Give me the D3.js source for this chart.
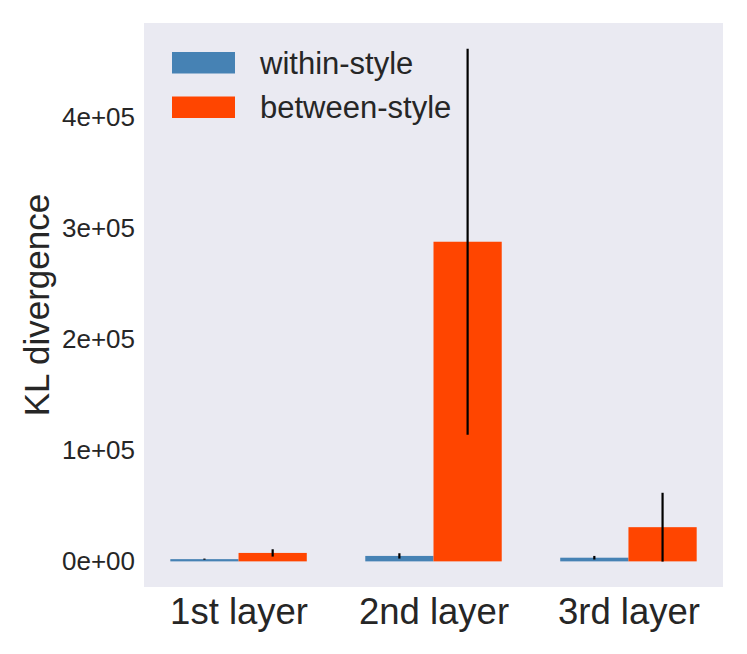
<!DOCTYPE html>
<html>
<head>
<meta charset="utf-8">
<script src="https://cdn.jsdelivr.net/npm/d3@7"></script>
<style>
  body { margin: 0; background: #fff; }
  svg text { font-family: "Liberation Sans", Arial, sans-serif; fill: #262626; }
</style>
</head>
<body>
<div class="chart"></div>
<script>
// values
var categories = ["1st layer", "2nd layer", "3rd layer"];
var seriesNames = ["within-style", "between-style"];
var withinMean = [2000, 4900, 3300];
var withinErr = [500, 2400, 1600];
var betweenMean = [7600, 288000, 30800];
var betweenErr = [3300, 174000, 31000];
var yTicks = [0, 100000, 200000, 300000, 400000];
var yTickLabels = ["0e+00", "1e+05", "2e+05", "3e+05", "4e+05"];

var colors = ["#4682B4", "#FF4500"];

var width = 747, height = 654;
var margin = {left: 144, right: 24, top: 23, bottom: 67};
var plotW = width - margin.left - margin.right,
    plotH = height - margin.top - margin.bottom;

var svg = d3.select(".chart").append("svg")
    .attr("width", width)
    .attr("height", height);

var g = svg.append("g")
    .attr("transform", "translate(" + margin.left + "," + margin.top + ")");

// index scale, bars are 0.35 wide each side of the tick
var x = d3.scaleLinear().domain([-0.485, 2.485]).range([0, plotW]);
var y = d3.scaleLinear().domain([-23100, 485100]).range([plotH, 0]);
var barW = 0.35;

g.append("rect")
    .attr("width", plotW)
    .attr("height", plotH)
    .style("fill", "#EAEAF2");

var series = [
  {key: "within", name: seriesNames[0], mean: withinMean, err: withinErr, off: -barW, color: colors[0]},
  {key: "between", name: seriesNames[1], mean: betweenMean, err: betweenErr, off: 0, color: colors[1]}
];

series.forEach(function(s) {
  var rows = categories.map(function(c, i) { return {i: i, v: s.mean[i], e: s.err[i]}; });

  g.selectAll(".bar-" + s.key)
    .data(rows)
    .enter().append("rect")
    .attr("class", "bar-" + s.key)
    .attr("x", function(d) { return x(d.i + s.off); })
    .attr("width", function(d) { return x(d.i + s.off + barW) - x(d.i + s.off); })
    .attr("y", function(d) { return y(d.v); })
    .attr("height", function(d) { return y(0) - y(d.v); })
    .style("fill", s.color);

  //error bars
  g.selectAll(".err-" + s.key)
    .data(rows)
    .enter().append("line")
    .attr("class", "err-" + s.key)
    .attr("x1", function(d) { return x(d.i + s.off + barW / 2); })
    .attr("x2", function(d) { return x(d.i + s.off + barW / 2); })
    .attr("y1", function(d) { return y(d.v - d.e); })
    .attr("y2", function(d) { return y(d.v + d.e); })
    .style("stroke", "#000")
    .style("stroke-width", 2.2);
});

// y axis labels, no ticks or domain
var yAxis = d3.axisLeft(y)
    .tickValues(yTicks)
    .tickSize(0)
    .tickPadding(9)
    .tickFormat(function(d, i) { return yTickLabels[i]; });

g.append("g")
    .call(yAxis)
    .call(function(a) { a.select(".domain").remove(); })
    .selectAll("text")
    .style("font-size", "26px")
    .style("font-family", "'Liberation Sans', Arial, sans-serif")
    .style("fill", "#262626");

var xAxis = d3.axisBottom(x)
    .tickValues([0, 1, 2])
    .tickSize(0)
    .tickPadding(11)
    .tickFormat(function(d) { return categories[d]; });

g.append("g")
    .attr("transform", "translate(0," + plotH + ")")
    .call(xAxis)
    .call(function(a) { a.select(".domain").remove(); })
    .selectAll("text")
    .style("font-size", "36.5px")
    .style("font-family", "'Liberation Sans', Arial, sans-serif")
    .style("fill", "#262626");

svg.append("text")
    .attr("transform", "translate(49," + (margin.top + plotH / 2) + ") rotate(-90)")
    .attr("text-anchor", "middle")
    .style("font-size", "35px")
    .text("KL divergence");

// legend
var legend = svg.selectAll(".legend")
    .data(series)
    .enter().append("g")
    .attr("class", "legend")
    .attr("transform", function(d, i) { return "translate(172," + (52 + i * 44.5) + ")"; });

legend.append("rect")
    .attr("width", 63)
    .attr("height", 21.5)
    .style("fill", function(d) { return d.color; });

legend.append("text")
    .attr("x", 88)
    .attr("y", 21.5)
    .style("font-size", "31px")
    .text(function(d) { return d.name; });
</script>
</body>
</html>
